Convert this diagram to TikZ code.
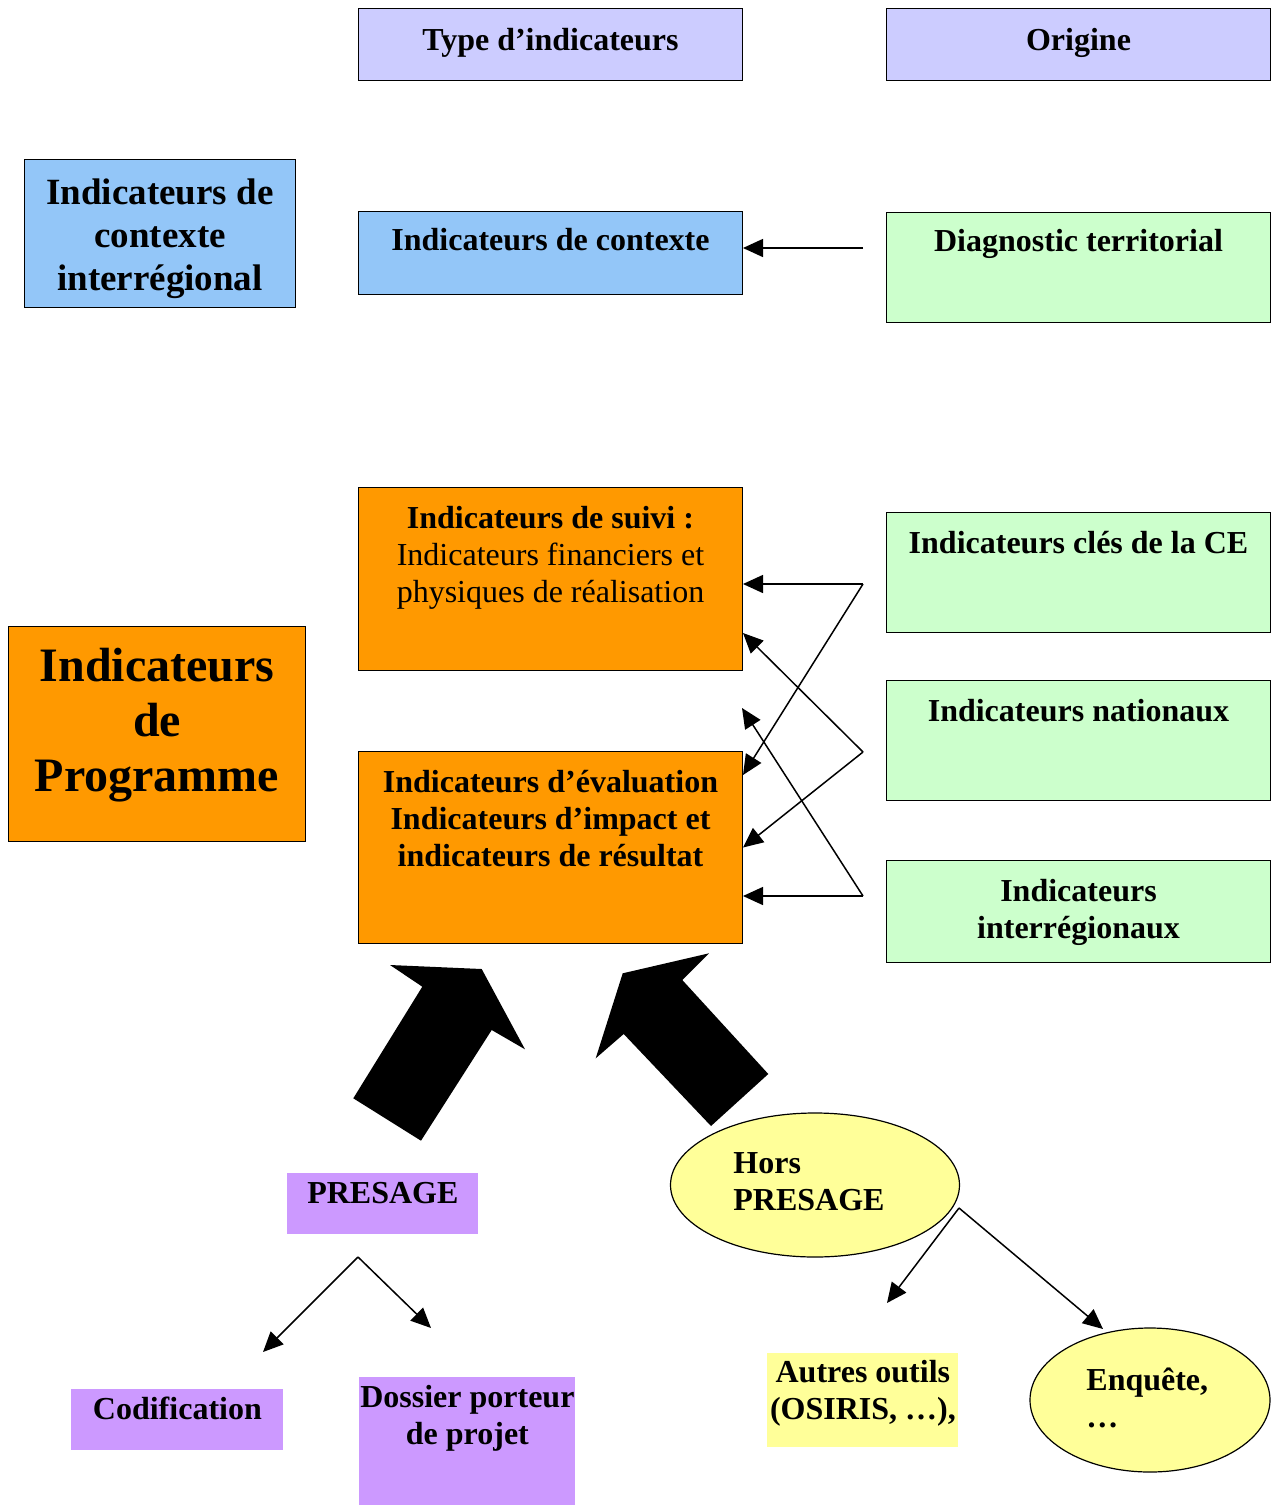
\documentclass[tikz,border=0pt]{standalone}
\usepackage{fontspec}
\setmainfont{Liberation Serif}
\usetikzlibrary{positioning,arrows.meta,shapes.geometric}

\definecolor{entete}{RGB}{204,204,255}
\definecolor{bleuctx}{RGB}{147,198,248}
\definecolor{vertorig}{RGB}{204,255,204}
\definecolor{orangeprog}{RGB}{255,153,0}
\definecolor{violetpres}{RGB}{204,153,255}
\definecolor{jaunehors}{RGB}{255,255,153}

\tikzset{
  boite/.style={draw=black, line width=0.5pt, inner sep=0pt, anchor=north west},
  aplat/.style={inner sep=0pt, anchor=north west},
  txt/.style={font=\bfseries\fontsize{16}{18.5}\selectfont, align=center, inner sep=0pt},
  bulle/.style={ellipse, draw=black, line width=0.6pt, fill=jaunehors, inner sep=0pt,
    font=\bfseries\fontsize{16}{18.5}\selectfont, align=left},
  fleche/.style={line width=0.75pt, -{Triangle[length=10pt,width=9pt]}}
}

\begin{document}
\begin{tikzpicture}[x=0.5pt,y=-0.5pt]
    \useasboundingbox (0,0) rectangle (1271,1505);

    %en-tetes
    \node[boite, fill=entete, minimum width=192pt, minimum height=36pt] (type) at (358,8) {};
    \node[txt, yshift=1pt] (typet) at (type) {Type d’indicateurs};
    \node[boite, fill=entete, minimum width=192pt, minimum height=36pt] (origine) at (886,8) {};
    \node[txt, yshift=1pt] (originet) at (origine) {Origine};

    %contexte
    \node[boite, fill=bleuctx, minimum width=135.5pt, minimum height=74pt] (ctxinter) at (24,159) {};
    \node[txt, font=\bfseries\fontsize{18.5}{21.5}\selectfont, yshift=-2.5pt] (ctxintert) at (ctxinter)
          {Indicateurs de\\contexte\\interrégional};
    \node[boite, fill=bleuctx, minimum width=192pt, minimum height=41.5pt] (ctx) at (358,211) {};
    \node[txt, below=8.5pt of ctx.north] (ctxt) {Indicateurs de contexte};
    \node[boite, fill=vertorig, minimum width=192pt, minimum height=55pt] (diag) at (886,212) {};
    \node[txt, below=8.5pt of diag.north] (diagt) {Diagnostic territorial};

    %programme
    \node[boite, fill=orangeprog, minimum width=148.5pt, minimum height=107.5pt] (prog) at (8,626) {};
    \node[txt, font=\bfseries\fontsize{24}{27.5}\selectfont, below=11pt of prog.north] (progt)
          {Indicateurs\\de\\Programme};
    \node[boite, fill=orangeprog, minimum width=192pt, minimum height=91.5pt] (suivi) at (358,487) {};
    \node[txt, below=9.5pt of suivi.north] (suivit)
          {Indicateurs de suivi :\\{\mdseries Indicateurs financiers et}\\{\mdseries physiques de réalisation}};
    \node[boite, fill=orangeprog, minimum width=192pt, minimum height=96pt] (eval) at (358,751) {};
    \node[txt, below=9.5pt of eval.north] (evalt)
          {Indicateurs d’évaluation\\Indicateurs d’impact et\\indicateurs de résultat};

    %origines
    \node[boite, fill=vertorig, minimum width=192pt, minimum height=60pt] (cles) at (886,512) {};
    \node[txt, below=9.5pt of cles.north] (clest) {Indicateurs clés de la CE};
    \node[boite, fill=vertorig, minimum width=192pt, minimum height=60pt] (nat) at (886,680) {};
    \node[txt, below=9.5pt of nat.north] (natt) {Indicateurs nationaux};
    \node[boite, fill=vertorig, minimum width=192pt, minimum height=51pt] (inter) at (886,860) {};
    \node[txt, below=9.5pt of inter.north] (intert) {Indicateurs\\interrégionaux};

    %sources
    \node[aplat, fill=violetpres, minimum width=95.5pt, minimum height=30.5pt] (presage) at (287,1173) {};
    \node[txt, below=4.5pt of presage.north] (presaget) {PRESAGE};
    \node[aplat, fill=violetpres, minimum width=106pt, minimum height=30.5pt] (codif) at (71,1389) {};
    \node[txt, below=4pt of codif.north] (codift) {Codification};
    \node[aplat, fill=violetpres, minimum width=108pt, minimum height=64pt] (dossier) at (359,1377) {};
    \node[txt, below=4pt of dossier.north] (dossiert) {Dossier porteur\\de projet};
    \node[aplat, fill=jaunehors, minimum width=95.5pt, minimum height=47pt] (autres) at (767,1353) {};
    \node[txt, below=3.5pt of autres.north] (autrest) {Autres outils\\(OSIRIS, …),};
    \node[bulle, minimum width=144.5pt, minimum height=72pt] (hors) at (815,1185) {};
    \node[txt, align=left, anchor=west] (horst) at (733,1182) {Hors\\PRESAGE};
    \node[bulle, minimum width=120pt, minimum height=72pt] (enq) at (1150,1400) {};
    \node[txt, align=left, anchor=west] (enqt) at (1086,1398) {Enquête,\\…};

    %points de depart des fleches
    \coordinate (d0) at (863,248);
    \coordinate (v1) at (863,584);
    \coordinate (v2) at (863,752);
    \coordinate (v3) at (863,896);
    \coordinate (e1) at ([yshift=-12pt]eval.north east);
    \coordinate (s1) at ([yshift=19pt]suivi.south east);
    \coordinate (vide) at (742,708);
    \coordinate (bp) at (358,1257);
    \coordinate (bpg) at (263,1352);
    \coordinate (bpd) at (431,1328);
    \coordinate (hp) at (959,1208);
    \coordinate (hpa) at (887,1303);
    \coordinate (hpb) at (1103,1329);

    %fleches
    \draw[fleche] (d0) -- (d0 -| ctx.east);
    \draw[fleche] (v1) -- (v1 -| suivi.east);
    \draw[fleche] (v1) -- (e1);
    \draw[fleche] (v2) -- (s1);
    \draw[fleche] (v2) -- (eval.east);
    \draw[fleche] (v3) -- (v3 -| eval.east);
    \draw[fleche] (v3) -- (vide);
    \draw[fleche] (bp) -- (bpg);
    \draw[fleche] (bp) -- (bpd);
    \draw[fleche] (hp) -- (hpa);
    \draw[fleche] (hp) -- (hpb);

    %grosses fleches
    \fill (390,965) -- (481.7,969) -- (525,1049.3) -- (491.7,1030) -- (421,1140.7)
          -- (353.3,1098.3) -- (422.3,986.7) -- cycle;
    \fill (595.7,1058.3) -- (622.7,973.3) -- (709,953.3) -- (682.3,980) -- (768.3,1074)
          -- (711,1126) -- (623.7,1034) -- cycle;
\end{tikzpicture}
\end{document}
